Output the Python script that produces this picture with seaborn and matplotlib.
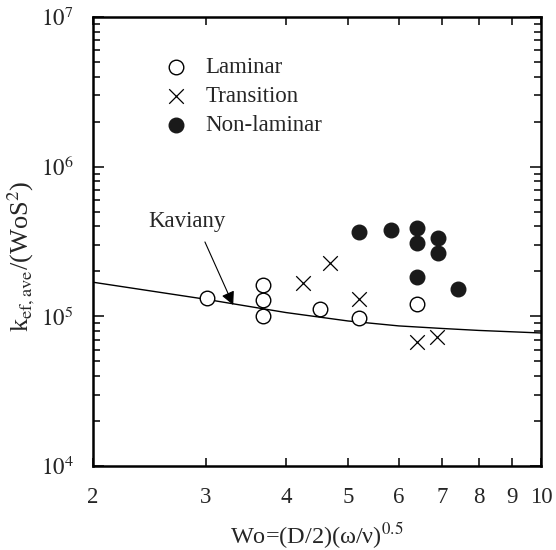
import numpy as np
import pandas as pd
import matplotlib
matplotlib.use("Agg")
import matplotlib.pyplot as plt
from matplotlib.ticker import FixedLocator, NullFormatter, LogLocator
import seaborn as sns

# ---- data ----
lam_x = [3.01, 3.68, 3.68, 3.68, 4.52, 5.20, 6.41]
lam_y = [1.33e5, 1.62e5, 1.29e5, 1.01e5, 1.12e5, 0.975e5, 1.21e5]

tra_x = [4.25, 4.69, 5.20, 6.41, 6.88]
tra_y = [1.67e5, 2.27e5, 1.31e5, 6.75e4, 7.28e4]

non_x = [5.20, 5.83, 6.41, 6.41, 6.91, 6.91, 6.41, 7.42]
non_y = [3.66e5, 3.78e5, 3.89e5, 3.09e5, 3.34e5, 2.65e5, 1.83e5, 1.52e5]

kav_x = [2, 3, 4, 5, 6, 7, 8, 10]
kav_y = [1.69e5, 1.30e5, 1.06e5, 9.31e4, 8.63e4, 8.30e4, 8.05e4, 7.74e4]

x_ticks = [2, 3, 4, 5, 6, 7, 8, 9, 10]
x_ticklabels = ["2", "3", "4", "5", "6", "7", "8", "9", "10"]
y_ticks = [1e4, 1e5, 1e6, 1e7]
y_ticklabels = [r"$10^{4}$", r"$10^{5}$", r"$10^{6}$", r"$10^{7}$"]

sns.set_theme(style="ticks")
plt.rcParams["font.family"] = ["Liberation Serif", "DejaVu Serif"]
plt.rcParams["mathtext.fontset"] = "stix"

fig = plt.figure(figsize=(5.56, 5.5), dpi=100)
ax = fig.add_axes([93/556, 1-466/550, 448/556, 449/550])

lam = pd.DataFrame({"x": lam_x, "y": lam_y})
tra = pd.DataFrame({"x": tra_x, "y": tra_y})
non = pd.DataFrame({"x": non_x, "y": non_y})
kav = pd.DataFrame({"x": kav_x, "y": kav_y})

sns.lineplot(data=kav, x="x", y="y", ax=ax, color="black", linewidth=1.0, label="_nolegend_")
sns.scatterplot(data=lam, x="x", y="y", ax=ax, marker="o", s=110, facecolor="white",
                edgecolor="black", linewidth=1.0, label="Laminar", zorder=3)
sns.scatterplot(data=tra, x="x", y="y", ax=ax, marker="x", s=110, color="black",
                linewidth=0.9, label="Transition", zorder=3)
sns.scatterplot(data=non, x="x", y="y", ax=ax, marker="o", s=110, color="#1a1a1a",
                edgecolor="#1a1a1a", linewidth=1.0, label="Non-laminar", zorder=3)

ax.set_xscale("log")
ax.set_yscale("log")
ax.set_xlim(2, 10)
ax.set_ylim(1e4, 1e7)

ax.xaxis.set_major_locator(FixedLocator(x_ticks))
ax.set_xticklabels(x_ticklabels)
ax.xaxis.set_minor_locator(FixedLocator([]))
ax.xaxis.set_minor_formatter(NullFormatter())
ax.yaxis.set_major_locator(FixedLocator(y_ticks))
ax.set_yticklabels(y_ticklabels)
ax.yaxis.set_minor_locator(LogLocator(base=10, subs=np.arange(2, 10)))
ax.yaxis.set_minor_formatter(NullFormatter())

ax.tick_params(which="major", direction="in", top=True, right=True, length=8, width=1.3,
               labelsize=16.5)
ax.tick_params(axis="x", which="major", length=6, pad=15)
ax.tick_params(axis="y", which="major", pad=14)
ax.tick_params(which="minor", direction="in", top=True, right=True, length=5, width=1.3)
for s in ax.spines.values():
    s.set_linewidth(1.8)
    s.set_color("black")

ax.set_xlabel(r"Wo=(D/2)(ω/ν)$^{0.5}$", fontsize=17.5, labelpad=9)
ax.set_ylabel(r"k$_{\mathrm{ef,ave}}$/(WoS$^{2}$)", fontsize=19)
ax.yaxis.set_label_coords(-0.125, 0.467)

ax.text(2.80, 4.27e5, "Kaviany", fontsize=16.5, ha="center", va="center")
ax.annotate("", xy=(3.31, 1.19e5), xytext=(2.99, 3.14e5),
            arrowprops=dict(arrowstyle="-|>", color="black", lw=0.8,
                            mutation_scale=20, shrinkA=0, shrinkB=0))

leg = ax.legend(loc="upper left", bbox_to_anchor=(0.10, 0.956), frameon=False,
                fontsize=16.5, handletextpad=0.55, labelspacing=0.33, handlelength=1.5)

fig.savefig("out.png", dpi=100, facecolor="white")
